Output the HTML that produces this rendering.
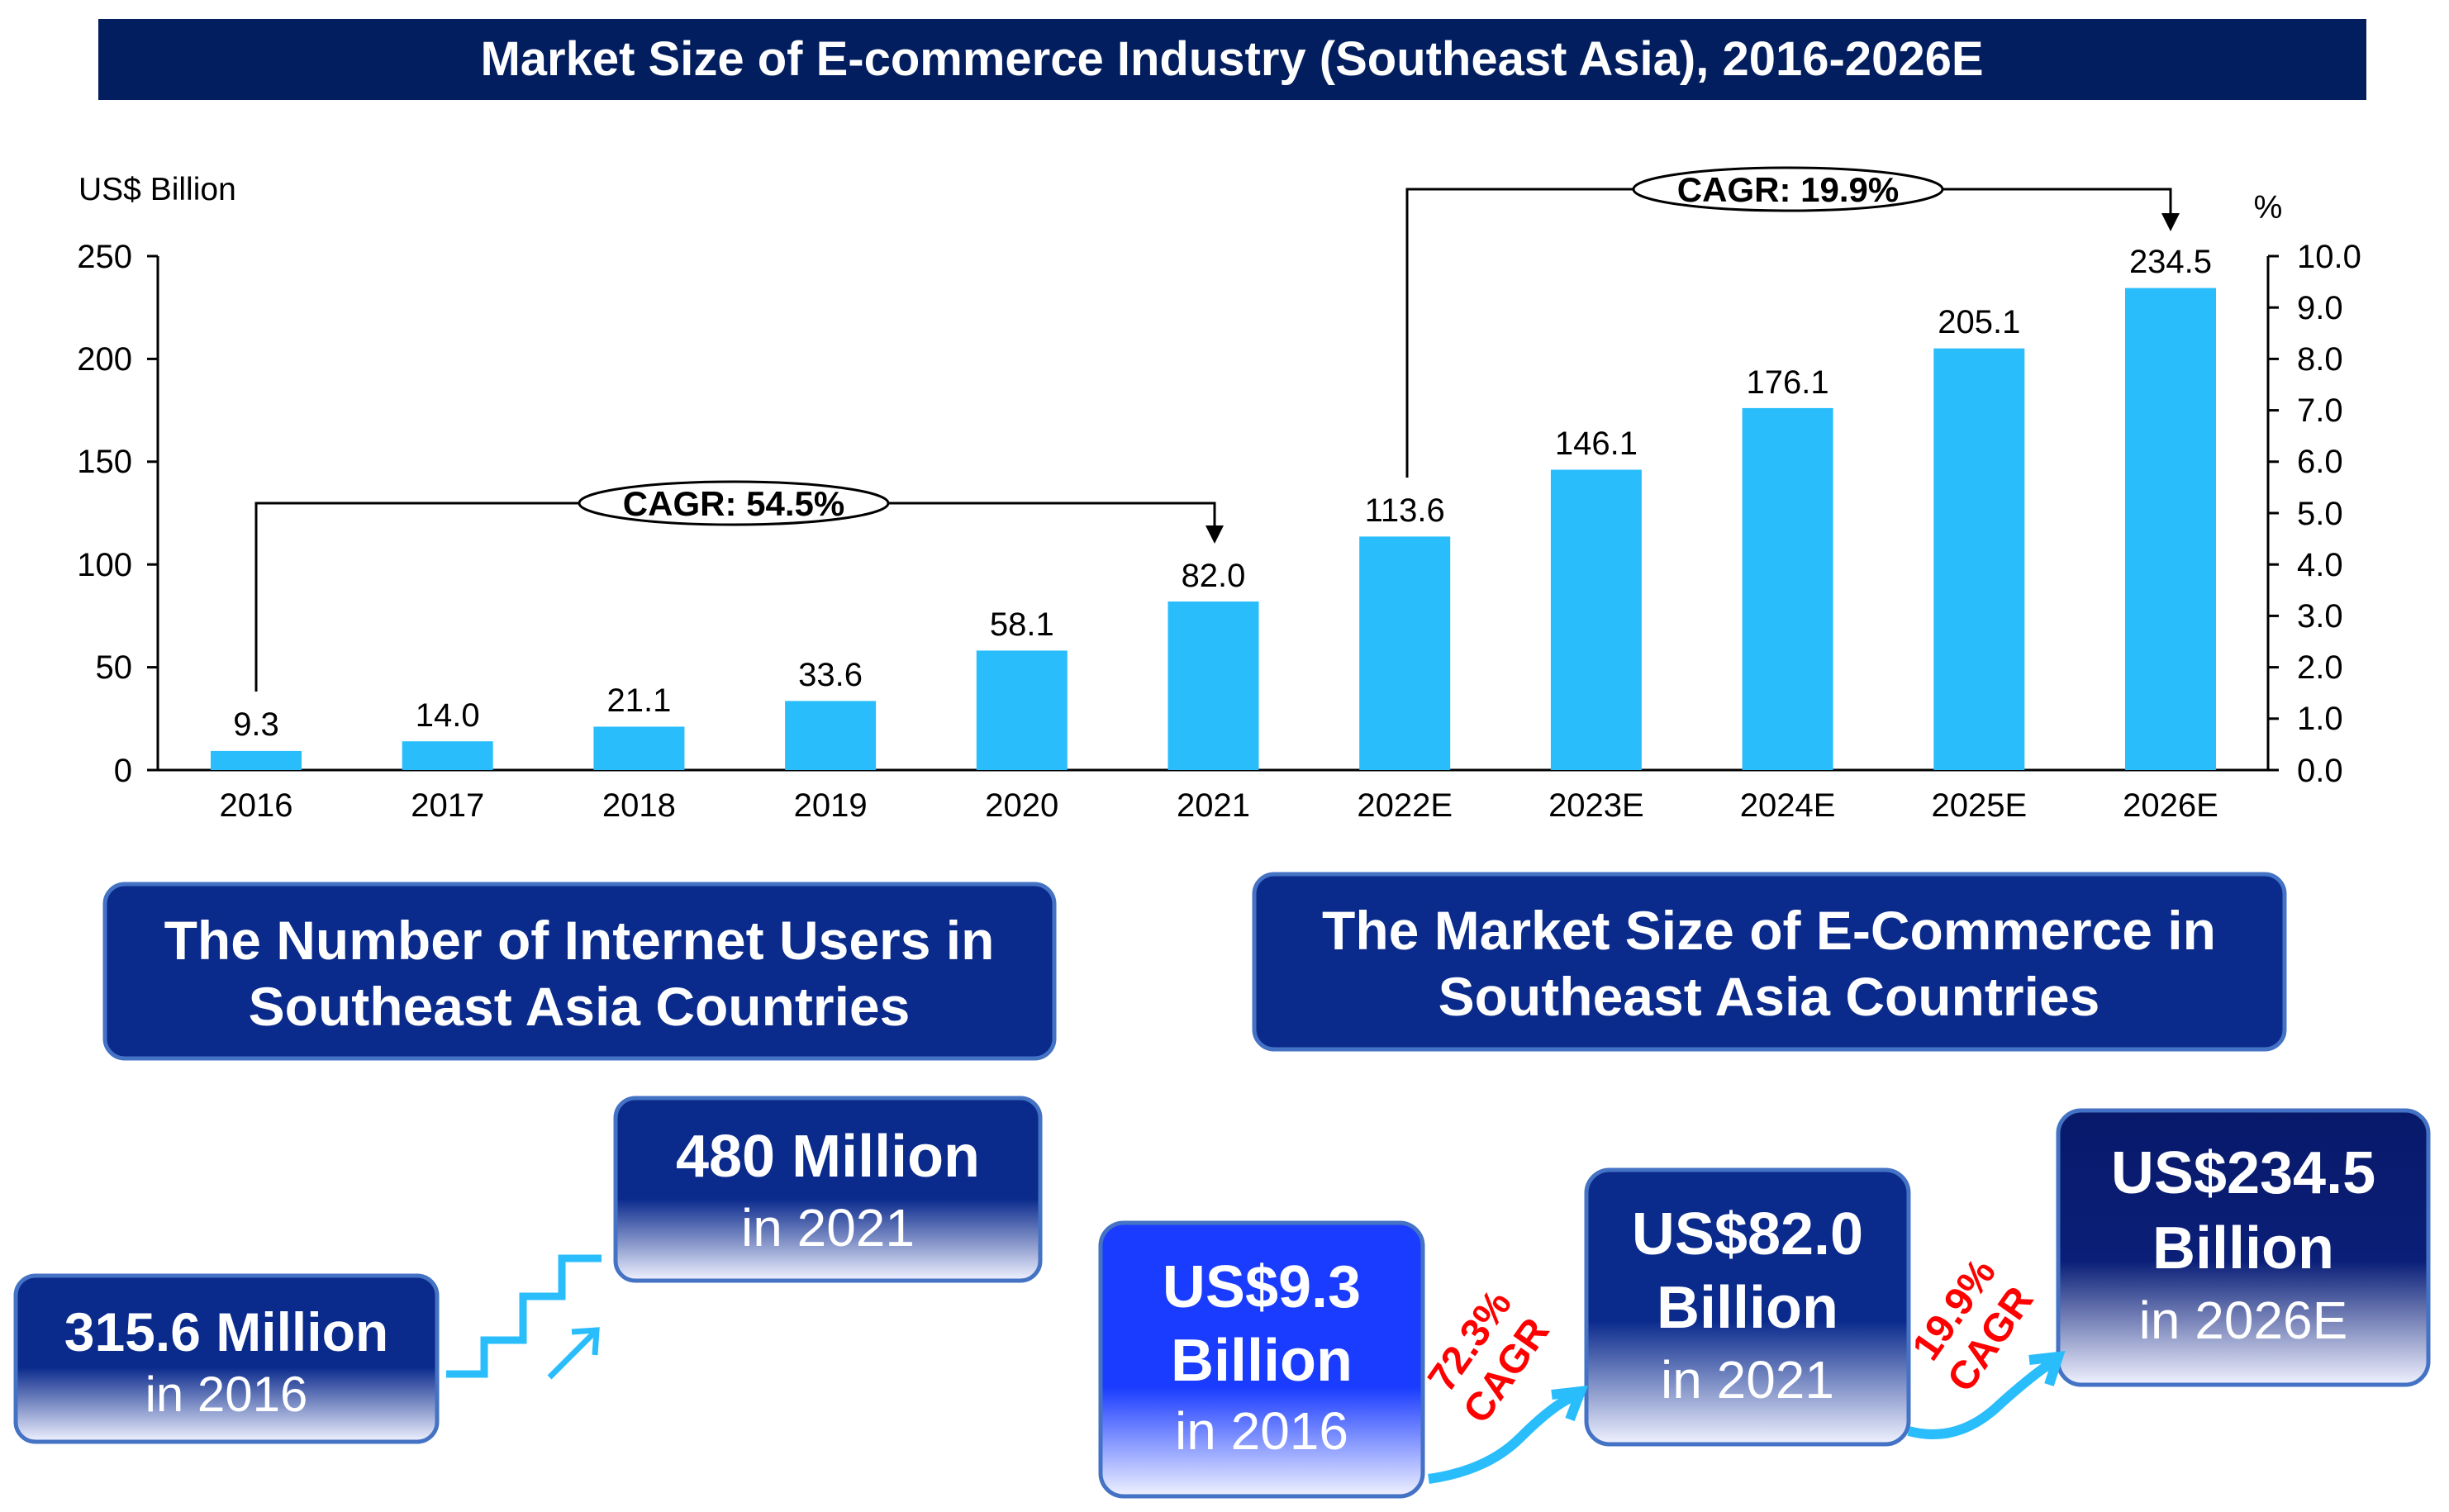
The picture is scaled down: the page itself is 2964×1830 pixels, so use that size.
<!DOCTYPE html>
<html><head><meta charset="utf-8"><style>
html,body{margin:0;padding:0;background:#fff;}
svg{display:block;font-family:"Liberation Sans",Arial,sans-serif;}
</style></head><body>
<svg width="2964" height="1830" viewBox="0 0 2964 1830" xmlns="http://www.w3.org/2000/svg">
<defs>
<linearGradient id="g1" x1="0" y1="0" x2="0" y2="1">
<stop offset="0" stop-color="#0a2a8c"/><stop offset="0.55" stop-color="#0a2a8c"/><stop offset="1" stop-color="#f0f2ff"/></linearGradient>
<linearGradient id="g2" x1="0" y1="0" x2="0" y2="1">
<stop offset="0" stop-color="#1a3cff"/><stop offset="0.6" stop-color="#1a3cff"/><stop offset="1" stop-color="#f0f2ff"/></linearGradient>
<linearGradient id="g3" x1="0" y1="0" x2="0" y2="1">
<stop offset="0" stop-color="#08196a"/><stop offset="0.55" stop-color="#0a1f78"/><stop offset="1" stop-color="#f0f2ff"/></linearGradient>
</defs>

<!-- title -->
<rect x="119" y="23" width="2745" height="98" fill="#021e5f"/>
<text x="1491" y="91" font-size="58" font-weight="bold" fill="#fff" text-anchor="middle">Market Size of E-commerce Industry (Southeast Asia), 2016-2026E</text>

<text x="95" y="242" font-size="39" fill="#000">US$ Billion</text>
<text x="2745" y="264" font-size="39" fill="#000" text-anchor="middle">%</text>

<!-- axes -->
<g stroke="#000" stroke-width="3" fill="none">
<line x1="191" y1="310" x2="191" y2="932"/>
<line x1="178" y1="932" x2="2745" y2="932"/>
<line x1="2745" y1="310" x2="2745" y2="932"/>
<line x1="178" y1="310" x2="191" y2="310"/><line x1="178" y1="434.4" x2="191" y2="434.4"/><line x1="178" y1="558.8" x2="191" y2="558.8"/><line x1="178" y1="683.2" x2="191" y2="683.2"/><line x1="178" y1="807.6" x2="191" y2="807.6"/>
<line x1="2745" y1="310" x2="2758" y2="310"/><line x1="2745" y1="372.2" x2="2758" y2="372.2"/><line x1="2745" y1="434.4" x2="2758" y2="434.4"/><line x1="2745" y1="496.6" x2="2758" y2="496.6"/><line x1="2745" y1="558.8" x2="2758" y2="558.8"/><line x1="2745" y1="621" x2="2758" y2="621"/><line x1="2745" y1="683.2" x2="2758" y2="683.2"/><line x1="2745" y1="745.4" x2="2758" y2="745.4"/><line x1="2745" y1="807.6" x2="2758" y2="807.6"/><line x1="2745" y1="869.8" x2="2758" y2="869.8"/><line x1="2745" y1="932" x2="2758" y2="932"/>
</g>
<g font-size="40" fill="#000" text-anchor="end">
<text x="160" y="324">250</text><text x="160" y="448">200</text><text x="160" y="572">150</text><text x="160" y="697">100</text><text x="160" y="821">50</text><text x="160" y="946">0</text>
</g>
<g font-size="40" fill="#000">
<text x="2780" y="324">10.0</text><text x="2780" y="386">9.0</text><text x="2780" y="448">8.0</text><text x="2780" y="510">7.0</text><text x="2780" y="572">6.0</text><text x="2780" y="635">5.0</text><text x="2780" y="697">4.0</text><text x="2780" y="759">3.0</text><text x="2780" y="821">2.0</text><text x="2780" y="883">1.0</text><text x="2780" y="946">0.0</text>
</g>

<!-- bars -->
<g fill="#29bdfc">
<rect x="255" y="908.9" width="110" height="23.1"/>
<rect x="486.7" y="897.2" width="110" height="34.8"/>
<rect x="718.4" y="879.5" width="110" height="52.5"/>
<rect x="950.1" y="848.4" width="110" height="83.6"/>
<rect x="1181.8" y="787.4" width="110" height="144.6"/>
<rect x="1413.5" y="728" width="110" height="204"/>
<rect x="1645.2" y="649.4" width="110" height="282.6"/>
<rect x="1876.9" y="568.5" width="110" height="363.5"/>
<rect x="2108.6" y="493.9" width="110" height="438.1"/>
<rect x="2340.3" y="421.7" width="110" height="510.3"/>
<rect x="2572" y="348.6" width="110" height="583.4"/>
</g>
<g font-size="40" fill="#000" text-anchor="middle">
<text x="310" y="890">9.3</text><text x="541.7" y="879">14.0</text><text x="773.4" y="861">21.1</text><text x="1005.1" y="830">33.6</text><text x="1236.8" y="769">58.1</text><text x="1468.5" y="710">82.0</text><text x="1700.2" y="631">113.6</text><text x="1931.9" y="550">146.1</text><text x="2163.6" y="476">176.1</text><text x="2395.3" y="403">205.1</text><text x="2627" y="330">234.5</text>
<text x="310" y="988">2016</text><text x="541.7" y="988">2017</text><text x="773.4" y="988">2018</text><text x="1005.1" y="988">2019</text><text x="1236.8" y="988">2020</text><text x="1468.5" y="988">2021</text><text x="1700.2" y="988">2022E</text><text x="1931.9" y="988">2023E</text><text x="2163.6" y="988">2024E</text><text x="2395.3" y="988">2025E</text><text x="2627" y="988">2026E</text>
</g>

<!-- CAGR brackets -->
<g stroke="#000" stroke-width="3" fill="none">
<polyline points="310,837 310,609 1470,609 1470,640"/>
<polyline points="1703,578 1703,229 2627,229 2627,262"/>
</g>
<path d="M1459,636 L1481,636 L1470,658 z" fill="#000"/>
<path d="M2616,258 L2638,258 L2627,280 z" fill="#000"/>
<ellipse cx="888" cy="609" rx="187" ry="26" fill="#fff" stroke="#000" stroke-width="3"/>
<text x="888" y="624" font-size="42" font-weight="bold" text-anchor="middle">CAGR: 54.5%</text>
<ellipse cx="2164" cy="229" rx="187" ry="26" fill="#fff" stroke="#000" stroke-width="3"/>
<text x="2164" y="244" font-size="42" font-weight="bold" text-anchor="middle">CAGR: 19.9%</text>

<!-- header boxes -->
<rect x="127" y="1070" width="1149" height="211" rx="24" fill="#0a2a8c" stroke="#4472c4" stroke-width="5"/>
<text x="701" y="1161" font-size="66" font-weight="bold" fill="#fff" text-anchor="middle">The Number of Internet Users in</text>
<text x="701" y="1241" font-size="66" font-weight="bold" fill="#fff" text-anchor="middle">Southeast Asia Countries</text>
<rect x="1518" y="1058" width="1247" height="212" rx="24" fill="#0a2a8c" stroke="#4472c4" stroke-width="5"/>
<text x="2141" y="1149" font-size="66" font-weight="bold" fill="#fff" text-anchor="middle">The Market Size of E-Commerce in</text>
<text x="2141" y="1229" font-size="66" font-weight="bold" fill="#fff" text-anchor="middle">Southeast Asia Countries</text>

<!-- user boxes -->
<rect x="19" y="1544" width="510" height="201" rx="24" fill="url(#g1)" stroke="#4472c4" stroke-width="5"/>
<text x="274" y="1635" font-size="66" font-weight="bold" fill="#fff" text-anchor="middle">315.6 Million</text>
<text x="274" y="1708" font-size="60" fill="#fff" text-anchor="middle">in 2016</text>
<rect x="745" y="1329" width="514" height="221" rx="24" fill="url(#g1)" stroke="#4472c4" stroke-width="5"/>
<text x="1002" y="1424" font-size="72" font-weight="bold" fill="#fff" text-anchor="middle">480 Million</text>
<text x="1002" y="1508" font-size="64" fill="#fff" text-anchor="middle">in 2021</text>

<!-- stairs -->
<polyline points="540,1663 586,1663 586,1622 633,1622 633,1569 680,1569 680,1523 728,1523" fill="none" stroke="#29bdfc" stroke-width="9"/>
<line x1="665" y1="1667" x2="720" y2="1612" stroke="#29bdfc" stroke-width="7"/>
<polyline points="692,1612 722,1610 720,1640" fill="none" stroke="#29bdfc" stroke-width="7"/>

<!-- market boxes -->
<rect x="1332" y="1480" width="390" height="331" rx="28" fill="url(#g2)" stroke="#4472c4" stroke-width="5"/>
<text x="1527" y="1582" font-size="72" font-weight="bold" fill="#fff" text-anchor="middle">US$9.3</text>
<text x="1527" y="1671" font-size="72" font-weight="bold" fill="#fff" text-anchor="middle">Billion</text>
<text x="1527" y="1754" font-size="64" fill="#fff" text-anchor="middle">in 2016</text>
<rect x="1920" y="1416" width="390" height="332" rx="28" fill="url(#g1)" stroke="#4472c4" stroke-width="5"/>
<text x="2115" y="1518" font-size="72" font-weight="bold" fill="#fff" text-anchor="middle">US$82.0</text>
<text x="2115" y="1607" font-size="72" font-weight="bold" fill="#fff" text-anchor="middle">Billion</text>
<text x="2115" y="1692" font-size="64" fill="#fff" text-anchor="middle">in 2021</text>
<rect x="2491" y="1344" width="448" height="332" rx="28" fill="url(#g3)" stroke="#4472c4" stroke-width="5"/>
<text x="2715" y="1444" font-size="72" font-weight="bold" fill="#fff" text-anchor="middle">US$234.5</text>
<text x="2715" y="1535" font-size="72" font-weight="bold" fill="#fff" text-anchor="middle">Billion</text>
<text x="2715" y="1620" font-size="64" fill="#fff" text-anchor="middle">in 2026E</text>

<!-- curved arrows -->
<path d="M1729,1790 Q1800,1780 1840,1740 Q1880,1700 1905,1690" fill="none" stroke="#29bdfc" stroke-width="12"/>
<path d="M1878,1688 L1913,1684 L1900,1718" fill="none" stroke="#29bdfc" stroke-width="12"/>
<path d="M2310,1732 Q2370,1748 2420,1700 Q2460,1664 2485,1648" fill="none" stroke="#29bdfc" stroke-width="12"/>
<path d="M2456,1646 L2491,1642 L2480,1676" fill="none" stroke="#29bdfc" stroke-width="12"/>

<!-- red CAGR labels -->
<g font-size="48" font-weight="bold" fill="#ff0000" text-anchor="middle">
<text transform="translate(1792,1632) rotate(-55)">72.3%</text>
<text transform="translate(1836,1668) rotate(-55)">CAGR</text>
<text transform="translate(2378,1594) rotate(-55)">19.9%</text>
<text transform="translate(2422,1630) rotate(-55)">CAGR</text>
</g>
</svg>
</body></html>
